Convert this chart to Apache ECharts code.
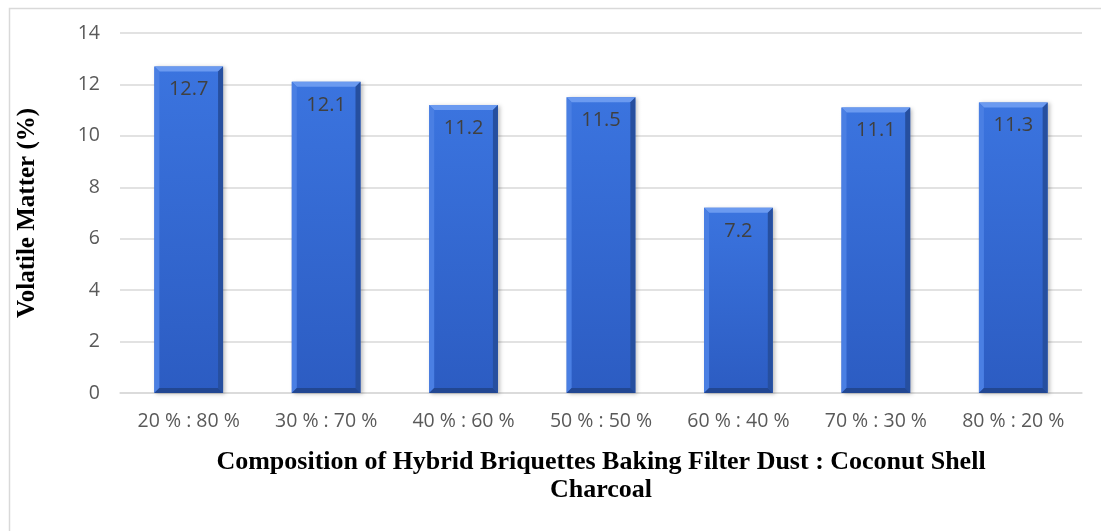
<!DOCTYPE html>
<html>
<head>
<meta charset="utf-8">
<script src="https://cdn.jsdelivr.net/npm/echarts@6/dist/echarts.min.js"></script>
<style>
  html, body { margin: 0; padding: 0; background: #fff; }
  #chart { width: 1101px; height: 531px; }
</style>
</head>
<body>
<div id="chart"></div>
<script>
// Composition ratios (baking filter dust : coconut shell charcoal)
const categories = ['20 % : 80 %', '30 % : 70 %', '40 % : 60 %', '50 % : 50 %', '60 % : 40 %', '70 % : 30 %', '80 % : 20 %'];
// Volatile matter content, %
const volatileMatter = [12.7, 12.1, 11.2, 11.5, 7.2, 11.1, 11.3];
const yTicks = { min: 0, max: 14, interval: 2 };

const chart = echarts.init(document.getElementById('chart'), null, { renderer: 'canvas' });

// Bevelled edges drawn on top of each bar
function bevel(params, api) {
  const v = api.value(1);
  const top = api.coord([api.value(0), v]);
  const base = api.coord([api.value(0), 0]);
  const band = api.size([1, 0])[0];
  const w = band * 0.5;
  const x0 = top[0] - w / 2, x1 = top[0] + w / 2;
  const y0 = top[1], y1 = base[1];
  const b = 5;
  return {
    type: 'group',
    silent: true,
    children: [
      { type: 'polygon', shape: { points: [[x0, y0], [x1, y0], [x1 - b, y0 + b], [x0 + b, y0 + b]] },
        style: { fill: '#6b9af0' } },
      { type: 'polygon', shape: { points: [[x0, y0], [x0 + b, y0 + b], [x0 + b, y1 - b], [x0, y1]] },
        style: { fill: '#4a7fe3' } },
      { type: 'polygon', shape: { points: [[x1, y0], [x1, y1], [x1 - b, y1 - b], [x1 - b, y0 + b]] },
        style: { fill: '#264f9f' } },
      { type: 'polygon', shape: { points: [[x0, y1], [x1, y1], [x1 - b, y1 - b], [x0 + b, y1 - b]] },
        style: { fill: '#224792' } }
    ]
  };
}

chart.setOption({
  backgroundColor: '#ffffff',
  animation: false,
  graphic: [{
    type: 'rect', left: 7, top: 6, z: -10, silent: true,
    shape: { width: 1110, height: 540 },
    style: { fill: 'none', stroke: '#d9d9d9', lineWidth: 1.5 }
  }],
  grid: { left: 120, right: 19, top: 33, bottom: 138 },
  xAxis: {
    type: 'category',
    data: categories,
    axisLine: { lineStyle: { color: '#d9d9d9', width: 1.5 } },
    axisTick: { show: false },
    axisLabel: { color: '#595959', fontSize: 19.5, margin: 18, fontFamily: 'Open Sans' },
    name: 'Composition of Hybrid Briquettes Baking Filter Dust : Coconut Shell\nCharcoal',
    nameLocation: 'middle',
    nameGap: 55,
    nameTextStyle: { fontFamily: 'Liberation Serif', fontWeight: 'bold', fontSize: 26, color: '#000', lineHeight: 28, verticalAlign: 'top' }
  },
  yAxis: {
    type: 'value',
    min: yTicks.min, max: yTicks.max, interval: yTicks.interval,
    axisLine: { show: false },
    axisTick: { show: false },
    splitLine: { lineStyle: { color: '#d9d9d9', width: 1.5 } },
    axisLabel: { color: '#595959', fontSize: 19.5, margin: 20, fontFamily: 'Open Sans' },
    name: 'Volatile Matter (%)',
    nameLocation: 'middle',
    nameGap: 80,
    nameTextStyle: { fontFamily: 'Liberation Serif', fontWeight: 'bold', fontSize: 25, color: '#000' }
  },
  series: [
    {
      type: 'bar',
      data: volatileMatter,
      barWidth: '50%',
      itemStyle: {
        color: new echarts.graphic.LinearGradient(0, 0, 0, 1, [
          { offset: 0, color: '#3b74df' },
          { offset: 1, color: '#2c5cc2' }
        ]),
        shadowColor: 'rgba(0,0,0,0.25)',
        shadowBlur: 4,
        shadowOffsetX: 2,
        shadowOffsetY: 1
      },
      label: {
        show: true,
        position: 'insideTop',
        distance: 13,
        color: '#404040',
        fontSize: 20,
        fontFamily: 'Open Sans',
        formatter: p => p.value.toFixed(1)
      },
      z: 2
    },
    {
      type: 'custom',
      data: volatileMatter.map((v, i) => [i, v]),
      renderItem: bevel,
      z: 3,
      silent: true
    }
  ]
});
</script>
</body>
</html>
